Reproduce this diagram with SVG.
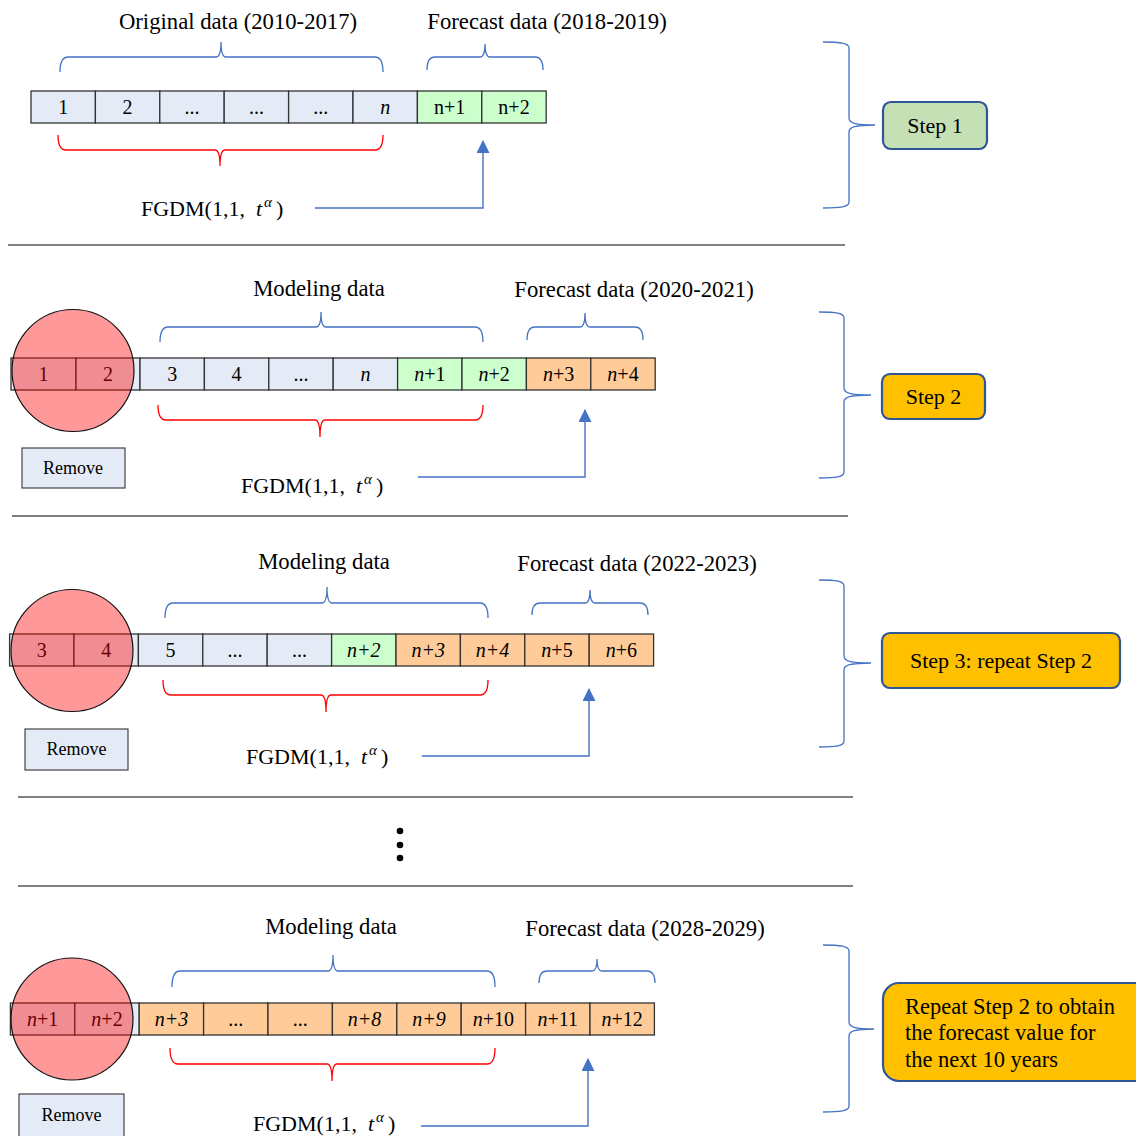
<svg xmlns="http://www.w3.org/2000/svg" width="1136" height="1136" viewBox="0 0 1136 1136">
<defs>
<style>
text{font-family:'Liberation Serif','Times New Roman',serif;fill:#000}
.hdr{font-size:22.7px;text-anchor:middle}
.ct{font-size:20px;text-anchor:middle}
.fg{font-size:22px}
.bt{font-size:22.5px}
.i{font-style:italic}
.bb{fill:none;stroke:#4472C4;stroke-width:1.3}
.rb{fill:none;stroke:#FF0000;stroke-width:1.3}
.conn{fill:none;stroke:#4472C4;stroke-width:1.4}
.sep{stroke:#7F7F7F;stroke-width:2}
.cell rect{stroke:#333;stroke-width:1.3}
.bl{fill:#E5EBF6}
.gr{fill:#CCFFCC}
.or{fill:#FFCC99}
.circ{fill:#FF0000;fill-opacity:0.4;stroke:#111;stroke-width:1.2}
.rm rect{fill:#E5EBF6;stroke:#444;stroke-width:1.2}
.rm text{font-size:18px;text-anchor:middle}
.step{stroke:#2F5597;stroke-width:2.2}
.st{font-size:22px;text-anchor:middle}
</style>
<marker id="ah" markerUnits="userSpaceOnUse" markerWidth="13" markerHeight="13" viewBox="0 0 13 13" refX="12" refY="6.5" orient="auto">
<path d="M0,0 L13,6.5 L0,13 z" fill="#4472C4"/>
</marker>
</defs>
<rect width="1136" height="1136" fill="#fff"/>

<!-- separators -->
<g id="separators">
<line class="sep" x1="8" y1="245" x2="845" y2="245"/>
<line class="sep" x1="12" y1="516" x2="848" y2="516"/>
<line class="sep" x1="18" y1="797" x2="853" y2="797"/>
<line class="sep" x1="18" y1="886" x2="853" y2="886"/>
<circle cx="400" cy="831" r="3.3" fill="#000"/>
<circle cx="400" cy="845" r="3.3" fill="#000"/>
<circle cx="400" cy="858" r="3.3" fill="#000"/>
</g>

<!-- ===== STEP 1 ===== -->
<g id="step1-labels">
<text class="hdr" x="238" y="29">Original data (2010-2017)</text>
<text class="hdr" x="547" y="29">Forecast data (2018-2019)</text>
</g>
<g id="step1-row" class="cell">
<rect class="bl" x="31" y="91" width="64.4" height="32"/>
<rect class="bl" x="95.4" y="91" width="64.4" height="32"/>
<rect class="bl" x="159.8" y="91" width="64.4" height="32"/>
<rect class="bl" x="224.2" y="91" width="64.4" height="32"/>
<rect class="bl" x="288.6" y="91" width="64.4" height="32"/>
<rect class="bl" x="353" y="91" width="64.4" height="32"/>
<rect class="gr" x="417.4" y="91" width="64.4" height="32"/>
<rect class="gr" x="481.8" y="91" width="64.4" height="32"/>
<text class="ct" x="63.2" y="114">1</text>
<text class="ct" x="127.6" y="114">2</text>
<text class="ct" x="192" y="114">...</text>
<text class="ct" x="256.4" y="114">...</text>
<text class="ct" x="320.8" y="114">...</text>
<text class="ct i" x="385.2" y="114">n</text>
<text class="ct" x="449.6" y="114">n+1</text>
<text class="ct" x="514" y="114">n+2</text>
</g>
<g id="step1-model">
<text class="fg" x="141" y="216">FGDM(1,1, <tspan class="i" x="256">t</tspan><tspan class="i" x="264" dy="-9" font-size="15">α</tspan><tspan x="276" dy="9">)</tspan></text>
</g>
<g id="step1-box">
<rect class="step" x="883" y="102" width="104" height="47" rx="8" fill="#C5E0B4"/>
<text class="st" x="935" y="133">Step 1</text>
</g>

<!-- ===== STEP 2 ===== -->
<g id="step2-labels">
<text class="hdr" x="319" y="296">Modeling data</text>
<text class="hdr" x="634" y="297">Forecast data (2020-2021)</text>
</g>
<g id="step2-row" class="cell">
<rect class="bl" x="11" y="358" width="65" height="32"/>
<rect class="bl" x="76" y="358" width="64" height="32"/>
<rect class="bl" x="140" y="358" width="64.4" height="32"/>
<rect class="bl" x="204.4" y="358" width="64.4" height="32"/>
<rect class="bl" x="268.8" y="358" width="64.4" height="32"/>
<rect class="bl" x="333.2" y="358" width="64.4" height="32"/>
<rect class="gr" x="397.6" y="358" width="64.4" height="32"/>
<rect class="gr" x="462" y="358" width="64.4" height="32"/>
<rect class="or" x="526.4" y="358" width="64.4" height="32"/>
<rect class="or" x="590.8" y="358" width="64.4" height="32"/>
<text class="ct" x="43.5" y="381">1</text>
<text class="ct" x="108" y="381">2</text>
<text class="ct" x="172.2" y="381">3</text>
<text class="ct" x="236.6" y="381">4</text>
<text class="ct" x="301" y="381">...</text>
<text class="ct i" x="365.4" y="381">n</text>
<text class="ct" x="429.8" y="381"><tspan class="i">n</tspan>+1</text>
<text class="ct" x="494.2" y="381"><tspan class="i">n</tspan>+2</text>
<text class="ct" x="558.6" y="381"><tspan class="i">n</tspan>+3</text>
<text class="ct" x="623" y="381"><tspan class="i">n</tspan>+4</text>
</g>
<g id="step2-remove-circle">
<circle class="circ" cx="73" cy="370.5" r="61"/>
</g>
<g id="step2-remove" class="rm">
<rect x="22" y="448" width="103" height="40"/>
<text x="73" y="474">Remove</text>
</g>
<g id="step2-model">
<text class="fg" x="241" y="493">FGDM(1,1, <tspan class="i" x="356">t</tspan><tspan class="i" x="364" dy="-9" font-size="15">α</tspan><tspan x="376" dy="9">)</tspan></text>
</g>
<g id="step2-box">
<rect class="step" x="882" y="374" width="103" height="45" rx="8" fill="#FFC000"/>
<text class="st" x="933.5" y="404">Step 2</text>
</g>

<!-- ===== STEP 3 ===== -->
<g id="step3-labels">
<text class="hdr" x="324" y="569">Modeling data</text>
<text class="hdr" x="637" y="571">Forecast data (2022-2023)</text>
</g>
<g id="step3-row" class="cell">
<rect class="bl" x="9.6" y="634" width="64.4" height="32"/>
<rect class="bl" x="74" y="634" width="64.4" height="32"/>
<rect class="bl" x="138.4" y="634" width="64.4" height="32"/>
<rect class="bl" x="202.8" y="634" width="64.4" height="32"/>
<rect class="bl" x="267.2" y="634" width="64.4" height="32"/>
<rect class="gr" x="331.6" y="634" width="64.4" height="32"/>
<rect class="or" x="396" y="634" width="64.4" height="32"/>
<rect class="or" x="460.4" y="634" width="64.4" height="32"/>
<rect class="or" x="524.8" y="634" width="64.4" height="32"/>
<rect class="or" x="589.2" y="634" width="64.4" height="32"/>
<text class="ct" x="41.8" y="657">3</text>
<text class="ct" x="106.2" y="657">4</text>
<text class="ct" x="170.6" y="657">5</text>
<text class="ct" x="235" y="657">...</text>
<text class="ct" x="299.4" y="657">...</text>
<text class="ct i" x="363.8" y="657">n+2</text>
<text class="ct i" x="428.2" y="657">n+3</text>
<text class="ct i" x="492.6" y="657">n+4</text>
<text class="ct" x="557" y="657"><tspan class="i">n</tspan>+5</text>
<text class="ct" x="621.4" y="657"><tspan class="i">n</tspan>+6</text>
</g>
<g id="step3-remove-circle">
<circle class="circ" cx="72" cy="650.5" r="61"/>
</g>
<g id="step3-remove" class="rm">
<rect x="25" y="729" width="103" height="41"/>
<text x="76.5" y="755">Remove</text>
</g>
<g id="step3-model">
<text class="fg" x="246" y="764">FGDM(1,1, <tspan class="i" x="361">t</tspan><tspan class="i" x="369" dy="-9" font-size="15">α</tspan><tspan x="381" dy="9">)</tspan></text>
</g>
<g id="step3-box">
<rect class="step" x="882" y="633" width="238" height="55" rx="8" fill="#FFC000"/>
<text class="st" x="1001" y="668">Step 3: repeat Step 2</text>
</g>

<!-- ===== STEP 4 ===== -->
<g id="step4-labels">
<text class="hdr" x="331" y="934">Modeling data</text>
<text class="hdr" x="645" y="936">Forecast data (2028-2029)</text>
</g>
<g id="step4-row" class="cell">
<rect class="bl" x="10.4" y="1003" width="64.4" height="32"/>
<rect class="bl" x="74.8" y="1003" width="64.4" height="32"/>
<rect class="or" x="139.2" y="1003" width="64.4" height="32"/>
<rect class="or" x="203.6" y="1003" width="64.4" height="32"/>
<rect class="or" x="268" y="1003" width="64.4" height="32"/>
<rect class="or" x="332.4" y="1003" width="64.4" height="32"/>
<rect class="or" x="396.8" y="1003" width="64.4" height="32"/>
<rect class="or" x="461.2" y="1003" width="64.4" height="32"/>
<rect class="or" x="525.6" y="1003" width="64.4" height="32"/>
<rect class="or" x="590" y="1003" width="64.4" height="32"/>
<text class="ct" x="42.6" y="1026"><tspan class="i">n</tspan>+1</text>
<text class="ct" x="107" y="1026"><tspan class="i">n</tspan>+2</text>
<text class="ct i" x="171.4" y="1026">n+3</text>
<text class="ct" x="235.8" y="1026">...</text>
<text class="ct" x="300.2" y="1026">...</text>
<text class="ct i" x="364.6" y="1026">n+8</text>
<text class="ct i" x="429" y="1026">n+9</text>
<text class="ct" x="493.4" y="1026"><tspan class="i">n</tspan>+10</text>
<text class="ct" x="557.8" y="1026"><tspan class="i">n</tspan>+11</text>
<text class="ct" x="622.2" y="1026"><tspan class="i">n</tspan>+12</text>
</g>
<g id="step4-remove-circle">
<circle class="circ" cx="72" cy="1019" r="61"/>
</g>
<g id="step4-remove" class="rm">
<rect x="19" y="1094" width="105" height="44"/>
<text x="71.5" y="1121">Remove</text>
</g>
<g id="step4-model">
<text class="fg" x="253" y="1131">FGDM(1,1, <tspan class="i" x="368">t</tspan><tspan class="i" x="376" dy="-9" font-size="15">α</tspan><tspan x="388" dy="9">)</tspan></text>
</g>
<g id="step4-box">
<rect class="step" x="883" y="983" width="270" height="98" rx="16" fill="#FFC000"/>
<text class="bt" x="905" y="1014">Repeat Step 2 to obtain</text>
<text class="bt" x="905" y="1040">the forecast value for</text>
<text class="bt" x="905" y="1067">the next 10 years</text>
</g>

<!-- ===== CONNECTORS: braces and arrows ===== -->
<g id="connectors">
<!-- step 1 -->
<path class="bb" d="M60,72 Q60,57 68,57 H216 Q221,57 221,42 Q221,57 226,57 H375 Q383,57 383,72"/>
<path class="bb" d="M427,70 Q427,57 435,57 H480 Q485,57 485,44 Q485,57 490,57 H535 Q543,57 543,70"/>
<path class="rb" d="M58,135 Q58,150 66,150 H215 Q220,150 220,166 Q220,150 225,150 H375 Q383,150 383,135"/>
<path class="conn" d="M315,208 H483 V141" marker-end="url(#ah)"/>
<path class="bb" d="M823,42 C840,42 849,43 849,48 V118 C849,123 855,125 875,125 C855,125 849,127 849,132 V202 C849,207 840,208 823,208"/>
<!-- step 2 -->
<path class="bb" d="M160,342 Q160,327 168,327 H316 Q321,327 321,312 Q321,327 326,327 H475 Q483,327 483,342"/>
<path class="bb" d="M527,340 Q527,327 535,327 H580 Q585,327 585,313 Q585,327 590,327 H635 Q643,327 643,340"/>
<path class="rb" d="M158,405 Q158,420 166,420 H315 Q320,420 320,437 Q320,420 325,420 H475 Q483,420 483,405"/>
<path class="conn" d="M418,477 H585 V410" marker-end="url(#ah)"/>
<path class="bb" d="M819,312 C836,312 844,313 844,318 V388 C844,393 850,395 871,395 C850,395 844,397 844,402 V472 C844,477 836,478 819,478"/>
<!-- step 3 -->
<path class="bb" d="M165,618 Q165,603 173,603 H322 Q327,603 327,587 Q327,603 332,603 H480 Q488,603 488,618"/>
<path class="bb" d="M532,615 Q532,603 540,603 H585 Q590,603 590,590 Q590,603 595,603 H640 Q648,603 648,615"/>
<path class="rb" d="M163,680 Q163,695 171,695 H321 Q326,695 326,712 Q326,695 331,695 H480 Q488,695 488,680"/>
<path class="conn" d="M422,756 H589 V689" marker-end="url(#ah)"/>
<path class="bb" d="M819,580 C836,580 844,581 844,586 V656 C844,661 850,663 871,663 C850,663 844,665 844,670 V741 C844,746 836,747 819,747"/>
<!-- step 4 -->
<path class="bb" d="M172,987 Q172,971 180,971 H328 Q333,971 333,955 Q333,971 338,971 H487 Q495,971 495,987"/>
<path class="bb" d="M539,983 Q539,971 547,971 H592 Q597,971 597,959 Q597,971 602,971 H647 Q655,971 655,983"/>
<path class="rb" d="M170,1048 Q170,1064 178,1064 H327 Q332,1064 332,1081 Q332,1064 337,1064 H487 Q495,1064 495,1048"/>
<path class="conn" d="M421,1126 H588 V1059" marker-end="url(#ah)"/>
<path class="bb" d="M823,945 C840,945 849,946 849,951 V1022 C849,1027 855,1029 874,1029 C855,1029 849,1031 849,1036 V1106 C849,1111 840,1112 823,1112"/>
</g>
</svg>
